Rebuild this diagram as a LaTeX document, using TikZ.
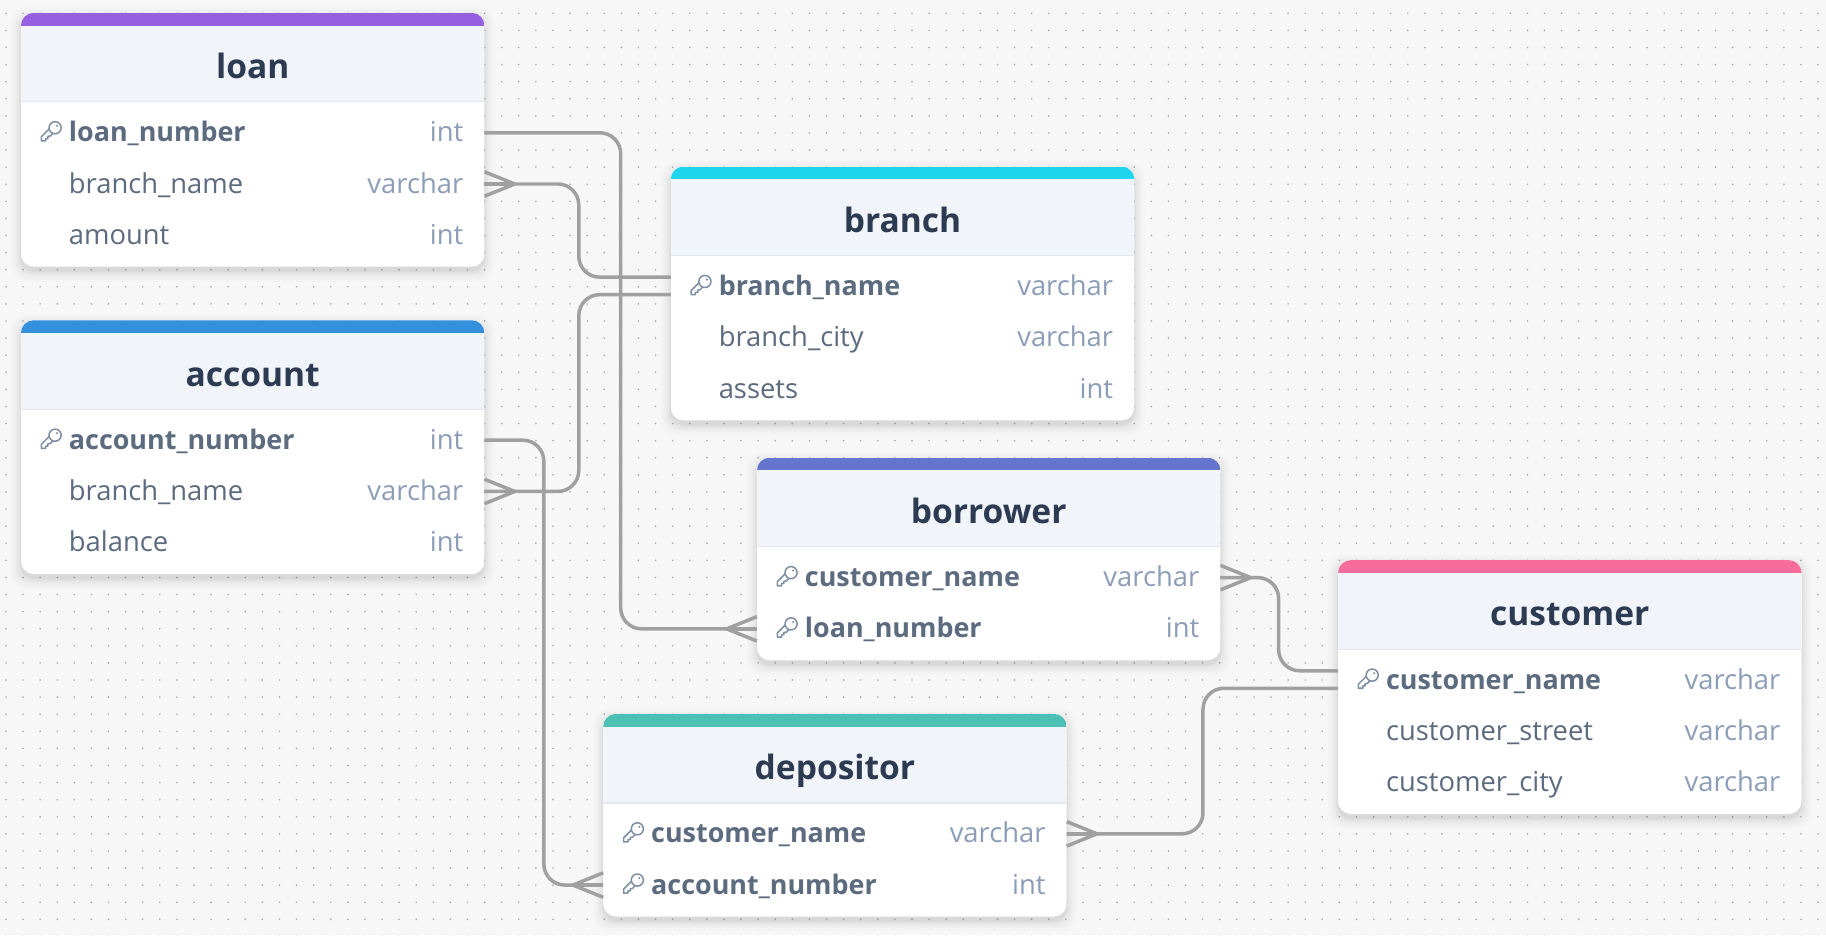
\documentclass[tikz,border=0pt]{standalone}
\usepackage{fontspec}
\setmainfont{Open Sans}
\usetikzlibrary{calc}
\definecolor{pagebg}{HTML}{F7F7F7}
\definecolor{dotc}{HTML}{ACACAC}
\definecolor{headbg}{HTML}{F1F4F9}
\definecolor{divc}{HTML}{E2E8F0}
\definecolor{titlec}{HTML}{2D3B52}
\definecolor{fieldc}{HTML}{5C6B7E}
\definecolor{typec}{HTML}{8C9DB7}
\definecolor{linkc}{HTML}{A0A0A0}
\definecolor{keyc}{HTML}{7F8FA3}
\definecolor{cpurple}{HTML}{9561E2}
\definecolor{cblue}{HTML}{3490DC}
\definecolor{ccyan}{HTML}{1FD5EE}
\definecolor{cindigo}{HTML}{6574CD}
\definecolor{cpink}{HTML}{F66D9B}
\definecolor{cteal}{HTML}{4DC0B5}
\tikzset{
  x=1pt,y=-1pt,
  cardbox/.style={inner sep=0pt,outer sep=0pt,minimum width=398pt},
  rowbox/.style={inner sep=0pt,outer sep=0pt,minimum width=398pt,minimum height=44pt},
  titletext/.style={inner sep=0pt,anchor=base,text=titlec,font=\fontsize{28.8}{32}\selectfont\bfseries},
  fieldtext/.style={inner sep=0pt,anchor=base west,text=fieldc,font=\fontsize{23.5}{28}\selectfont},
  keytext/.style={inner sep=0pt,anchor=base west,text=fieldc,font=\fontsize{23.1}{28}\selectfont\bfseries},
  typetext/.style={inner sep=0pt,anchor=base east,text=typec,font=\fontsize{23.5}{28}\selectfont},
  link/.style={draw=linkc,line width=3pt,rounded corners=18pt},
  foot/.style={draw=linkc,line width=3pt},
  keyline/.style={draw=keyc,line width=1.3pt,line join=round}
}
% name, left, top, bottom, colour, title
\newcommand\dbtable[6]{%
  \foreach \sz/\op in {9/0.008,7.5/0.010,6/0.012,4.5/0.015,3/0.018,1.5/0.022,0.5/0.028}{
    \fill[black,opacity=\op,rounded corners=13pt]
      ({#2-\sz},{#3+4-\sz}) rectangle ({#2+398+\sz},{#4+4+\sz});
  }
  \fill[white,rounded corners=11pt] (#2,#3) rectangle ({#2+398},#4);
  \begin{scope}
    \clip[rounded corners=11pt] (#2,#3) rectangle ({#2+398},#4);
    \fill[headbg] (#2,{#3+11}) rectangle ({#2+398},{#3+76});
    \fill[#5] (#2,#3) rectangle ({#2+398},{#3+11});
    \fill[divc] (#2,{#3+76}) rectangle ({#2+398},{#3+77});
  \end{scope}
  \path ({#2+199},{(#3+#4)/2}) node[cardbox,minimum height={(#4-#3)*1pt}] (#1) {};
  \node[titletext] (#1-title) at ({#2+199},{#3+56.5}) {#6};
}
% name, left, y, key flag, text, type
\newcommand\dbrow[6]{%
  \node[rowbox] (#1) at ({#2+199},#3) {};
  \ifnum#4=1
    \begin{scope}[shift={({#2+26},#3)}]
      \draw[keyline,fill=white] (-1.5,-2.5)--(-8.5,4.5)--(-8.5,8)--(-4.8,8)--(-4.8,6)--(-2.8,6)--(-2.8,4)--(-1,4)--(2,1);
      \draw[keyline,fill=white] (3.3,-3.3) circle[radius=5.2];
      \fill[keyc] (5,-5) circle[radius=1];
    \end{scope}
    \node[keytext] (#1-text) at ({#2+41},{#3+8.8}) {#5};
  \else
    \node[fieldtext] (#1-text) at ({#2+41},{#3+8.8}) {#5};
  \fi
  \node[typetext] (#1-type) at ({#2+380},{#3+8.8}) {#6};
}
% crow's foot: anchor point, direction (+1 right, -1 left)
\newcommand\crowfoot[2]{%
  \draw[foot] ($(#1)+(0,-10.5)$) -- ($(#1)+(#2*26,0)$) -- ($(#1)+(0,10.5)$);
  \draw[foot] (#1) -- ($(#1)+(#2*26,0)$);
}
\begin{document}
\begin{tikzpicture}
\useasboundingbox (0,0) rectangle (1568,803);
\fill[pagebg] (0,0) rectangle (1568,803);
\foreach \j in {0,...,54}{
  \draw[dotc,line width=1.6pt,line cap=round,dash pattern=on 0pt off 14.68pt]
    (5.1,{11.4+14.68*\j}) -- (1568,{11.4+14.68*\j});
}

\dbtable{loan}{18}{11}{229}{cpurple}{loan}
\dbrow{loan-1}{18}{113}{1}{loan\_number}{int}
\dbrow{loan-2}{18}{157}{0}{branch\_name}{varchar}
\dbrow{loan-3}{18}{201}{0}{amount}{int}

\dbtable{account}{18}{275}{493}{cblue}{account}
\dbrow{account-1}{18}{377}{1}{account\_number}{int}
\dbrow{account-2}{18}{421}{0}{branch\_name}{varchar}
\dbrow{account-3}{18}{465}{0}{balance}{int}

\dbtable{branch}{576}{143}{361}{ccyan}{branch}
\dbrow{branch-1}{576}{245}{1}{branch\_name}{varchar}
\dbrow{branch-2}{576}{289}{0}{branch\_city}{varchar}
\dbrow{branch-3}{576}{333}{0}{assets}{int}

\dbtable{borrower}{650}{393}{567}{cindigo}{borrower}
\dbrow{borrower-1}{650}{495}{1}{customer\_name}{varchar}
\dbrow{borrower-2}{650}{539}{1}{loan\_number}{int}

\dbtable{customer}{1149}{481}{699}{cpink}{customer}
\dbrow{customer-1}{1149}{583}{1}{customer\_name}{varchar}
\dbrow{customer-2}{1149}{627}{0}{customer\_street}{varchar}
\dbrow{customer-3}{1149}{671}{0}{customer\_city}{varchar}

\dbtable{depositor}{518}{613}{787}{cteal}{depositor}
\dbrow{depositor-1}{518}{715}{1}{customer\_name}{varchar}
\dbrow{depositor-2}{518}{759}{1}{account\_number}{int}

% connectors
\coordinate (c1a) at ($(loan-1.east)+(0,1)$);
\coordinate (c1b) at ($(borrower-2.west)+(0,1)$);
\draw[link] (c1a) -- (533,114) -- (533,540) -- (c1b);
\crowfoot{c1b}{-1}

\coordinate (c2a) at ($(loan-2.east)+(0,1)$);
\coordinate (c2b) at ($(branch-1.west)+(0,-7)$);
\draw[link] (c2a) -- (497,158) -- (497,238) -- (c2b);
\crowfoot{c2a}{1}

\coordinate (c3a) at ($(account-2.east)+(0,1)$);
\coordinate (c3b) at ($(branch-1.west)+(0,8)$);
\draw[link] (c3a) -- (497,422) -- (497,253) -- (c3b);
\crowfoot{c3a}{1}

\coordinate (c4a) at ($(account-1.east)+(0,1)$);
\coordinate (c4b) at ($(depositor-2.west)+(0,1)$);
\draw[link] (c4a) -- (467,378) -- (467,760) -- (c4b);
\crowfoot{c4b}{-1}

\coordinate (c5a) at ($(borrower-1.east)+(0,1)$);
\coordinate (c5b) at ($(customer-1.west)+(0,-7)$);
\draw[link] (c5a) -- (1098,496) -- (1098,576) -- (c5b);
\crowfoot{c5a}{1}

\coordinate (c6a) at ($(depositor-1.east)+(0,1)$);
\coordinate (c6b) at ($(customer-1.west)+(0,8)$);
\draw[link] (c6a) -- (1033,716) -- (1033,591) -- (c6b);
\crowfoot{c6a}{1}
\end{tikzpicture}
\end{document}
